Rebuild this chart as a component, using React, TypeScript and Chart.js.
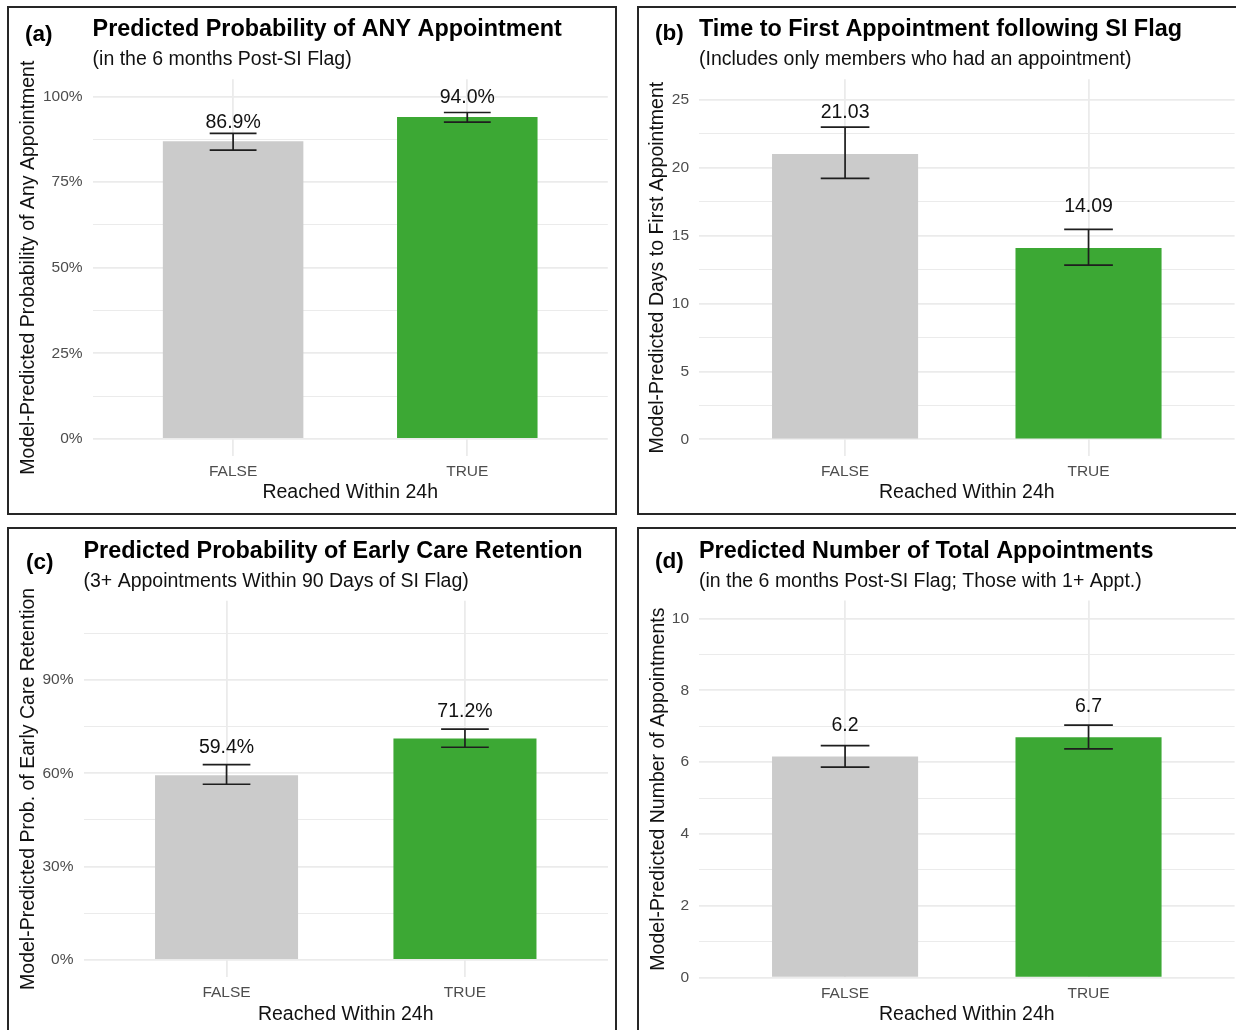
import React, { useEffect, useRef } from 'react';
import { Chart, registerables } from 'chart.js';

Chart.register(...registerables);

const FONT = '"Liberation Sans", Arial, Helvetica, sans-serif';

// ---------- shared data ----------
const CATEGORIES = ['FALSE', 'TRUE'];
const X_TITLE = 'Reached Within 24h';
const BAR_COLORS = ['#cbcbcb', '#3ca834'];

// ---------- panel (a) ----------
const A_TAG = '(a)';
const A_TITLE = 'Predicted Probability of ANY Appointment';
const A_SUBTITLE = '(in the 6 months Post-SI Flag)';
const A_Y_TITLE = 'Model-Predicted Probability of Any Appointment';
const A_VALUES = [86.9, 94.0];
const A_LOWER = [84.3, 92.5];
const A_UPPER = [89.2, 95.3];
const A_MAJOR_TICKS = [0, 25, 50, 75, 100];
const A_MINOR_TICKS = [12.5, 37.5, 62.5, 87.5];
const A_Y_RANGE = [-5, 105];

// ---------- panel (b) ----------
const B_TAG = '(b)';
const B_TITLE = 'Time to First Appointment following SI Flag';
const B_SUBTITLE = '(Includes only members who had an appointment)';
const B_Y_TITLE = 'Model-Predicted Days to First Appointment';
const B_VALUES = [21.03, 14.09];
const B_LOWER = [19.23, 12.84];
const B_UPPER = [23.0, 15.47];
const B_MAJOR_TICKS = [0, 5, 10, 15, 20, 25];
const B_MINOR_TICKS = [2.5, 7.5, 12.5, 17.5, 22.5];
const B_Y_RANGE = [-1.23, 26.53];

// ---------- panel (c) ----------
const C_TAG = '(c)';
const C_TITLE = 'Predicted Probability of Early Care Retention';
const C_SUBTITLE = '(3+ Appointments Within 90 Days of SI Flag)';
const C_Y_TITLE = 'Model-Predicted Prob. of Early Care Retention';
const C_VALUES = [59.4, 71.2];
const C_LOWER = [56.5, 68.4];
const C_UPPER = [62.8, 74.2];
const C_MAJOR_TICKS = [0, 30, 60, 90];
const C_MINOR_TICKS = [15, 45, 75, 105];
const C_Y_RANGE = [-5.5, 115.5];

// ---------- panel (d) ----------
const D_TAG = '(d)';
const D_TITLE = 'Predicted Number of Total Appointments';
const D_SUBTITLE = '(in the 6 months Post-SI Flag; Those with 1+ Appt.)';
const D_Y_TITLE = 'Model-Predicted Number of Appointments';
const D_VALUES = [6.16, 6.69];
const D_LOWER = [5.86, 6.37];
const D_UPPER = [6.46, 7.03];
const D_MAJOR_TICKS = [0, 2, 4, 6, 8, 10];
const D_MINOR_TICKS = [1, 3, 5, 7, 9];
const D_Y_RANGE = [0, 10.5];

// ---------- styling / layout ----------
const BOX_W = 610;
const BOX_H = 509;
const BORDER = 2;
const TITLE_SIZE = 23.4;
const TAG_SIZE = 22.5;
const TEXT_SIZE = 19.5;
const TICK_SIZE = 15.5;
const GRID_COLOR = '#ebebeb';
const LABEL_DY = 1.5;

const pct = (v: number) => `${v}%`;
const plain = (v: number) => `${v}`;

const PANELS = [
  {
    key: 'a', tag: A_TAG, title: A_TITLE, subtitle: A_SUBTITLE, yTitle: A_Y_TITLE,
    values: A_VALUES, lower: A_LOWER, upper: A_UPPER,
    major: A_MAJOR_TICKS, minor: A_MINOR_TICKS, range: A_Y_RANGE,
    tickFmt: pct, labelFmt: (v: number) => v.toFixed(1) + '%', labelLift: 6,
    layout: { boxLeft: 7, boxTop: 6, plotLeft: 92.6, plotRight: 607.8, plotTop: 79.3, plotBottom: 456,
      yTitleX: 29, xTitleY: 493, tagX: 25, tagY: 41, titleY: 36, subY: 65 },
  },
  {
    key: 'b', tag: B_TAG, title: B_TITLE, subtitle: B_SUBTITLE, yTitle: B_Y_TITLE,
    values: B_VALUES, lower: B_LOWER, upper: B_UPPER,
    major: B_MAJOR_TICKS, minor: B_MINOR_TICKS, range: B_Y_RANGE,
    tickFmt: plain, labelFmt: (v: number) => v.toFixed(2), labelLift: 3.15,
    layout: { boxLeft: 637, boxTop: 6, plotLeft: 699, plotRight: 1234.6, plotTop: 79.3, plotBottom: 456,
      yTitleX: 657.5, xTitleY: 493, tagX: 655, tagY: 40, titleY: 36, subY: 65 },
  },
  {
    key: 'c', tag: C_TAG, title: C_TITLE, subtitle: C_SUBTITLE, yTitle: C_Y_TITLE,
    values: C_VALUES, lower: C_LOWER, upper: C_UPPER,
    major: C_MAJOR_TICKS, minor: C_MINOR_TICKS, range: C_Y_RANGE,
    tickFmt: pct, labelFmt: (v: number) => v.toFixed(1) + '%', labelLift: 9.2,
    layout: { boxLeft: 7, boxTop: 527, plotLeft: 83.5, plotRight: 608, plotTop: 600.8, plotBottom: 977,
      yTitleX: 29, xTitleY: 1015, tagX: 26, tagY: 569, titleY: 558, subY: 587 },
  },
  {
    key: 'd', tag: D_TAG, title: D_TITLE, subtitle: D_SUBTITLE, yTitle: D_Y_TITLE,
    values: D_VALUES, lower: D_LOWER, upper: D_UPPER,
    major: D_MAJOR_TICKS, minor: D_MINOR_TICKS, range: D_Y_RANGE,
    tickFmt: plain, labelFmt: (v: number) => v.toFixed(1), labelLift: 0.9,
    layout: { boxLeft: 637, boxTop: 527, plotLeft: 699, plotRight: 1234.6, plotTop: 600.5, plotBottom: 977.7,
      yTitleX: 658.5, xTitleY: 1015, tagX: 655, tagY: 568, titleY: 558, subY: 587 },
  },
];

function Panel({ spec }: { spec: any }) {
  const ref = useRef<HTMLCanvasElement>(null);

  useEffect(() => {
    const L = spec.layout;
    const cl = L.boxLeft + BORDER;
    const ct = L.boxTop + BORDER;
    const cw = BOX_W - 2 * BORDER;
    const ch = BOX_H - 2 * BORDER;
    const half = (TEXT_SIZE * 1.2) / 2;
    const yScaleLeft = L.yTitleX - half;
    const padLeft = yScaleLeft - cl;
    const yWidth = L.plotLeft - yScaleLeft;
    const padRight = cl + cw - L.plotRight;
    const padTop = L.plotTop - ct;
    const xHeight = L.xTitleY + half - L.plotBottom;
    const padBottom = ct + ch - (L.plotBottom + xHeight);

    const majorSet = new Set<number>(spec.major);
    const allTicks = [...spec.major, ...spec.minor].sort((a: number, b: number) => a - b);

    const annot = {
      id: 'annot' + spec.key,
      afterDatasetsDraw(chart: any) {
        const { ctx } = chart;
        const x = chart.scales.x;
        const y = chart.scales.y;
        ctx.save();
        ctx.strokeStyle = '#1e1e1e';
        ctx.lineWidth = 1.7;
        spec.values.forEach((v: number, i: number) => {
          const cx = x.getPixelForValue(i + 1);
          const hw = x.getPixelForValue(i + 1.1) - cx;
          const yl = y.getPixelForValue(spec.lower[i]);
          const yu = y.getPixelForValue(spec.upper[i]);
          ctx.beginPath();
          ctx.moveTo(cx, yl);
          ctx.lineTo(cx, yu);
          ctx.moveTo(cx - hw, yu);
          ctx.lineTo(cx + hw, yu);
          ctx.moveTo(cx - hw, yl);
          ctx.lineTo(cx + hw, yl);
          ctx.stroke();
          ctx.fillStyle = '#111';
          ctx.font = `${TEXT_SIZE}px ${FONT}`;
          ctx.textAlign = 'center';
          ctx.textBaseline = 'middle';
          ctx.fillText(spec.labelFmt(v), cx, y.getPixelForValue(v + spec.labelLift) + LABEL_DY);
        });
        ctx.restore();
      },
      afterDraw(chart: any) {
        const { ctx, chartArea } = chart;
        ctx.save();
        ctx.fillStyle = '#000';
        ctx.textAlign = 'left';
        ctx.textBaseline = 'alphabetic';
        ctx.font = `bold ${TITLE_SIZE}px ${FONT}`;
        ctx.fillText(spec.title, chartArea.left, L.titleY - ct);
        ctx.font = `bold ${TAG_SIZE}px ${FONT}`;
        ctx.fillText(spec.tag, L.tagX - cl, L.tagY - ct);
        ctx.font = `${TEXT_SIZE}px ${FONT}`;
        ctx.fillStyle = '#111';
        ctx.fillText(spec.subtitle, chartArea.left, L.subY - ct);
        ctx.restore();
      },
    };

    const chart = new Chart(ref.current as HTMLCanvasElement, {
      type: 'bar',
      data: {
        datasets: [
          {
            data: spec.values.map((v: number, i: number) => ({ x: i + 1, y: v })),
            backgroundColor: BAR_COLORS,
            borderWidth: 0,
            barPercentage: 0.6,
            categoryPercentage: 1,
          },
        ],
      },
      options: {
        responsive: false,
        animation: false,
        events: [],
        layout: {
          autoPadding: false,
          padding: { left: padLeft, right: padRight, top: padTop, bottom: padBottom },
        },
        plugins: {
          legend: { display: false },
          tooltip: { enabled: false },
          title: { display: false },
        },
        scales: {
          x: {
            type: 'linear',
            min: 0.4,
            max: 2.6,
            offset: false,
            afterBuildTicks: (s: any) => {
              s.ticks = CATEGORIES.map((_, i) => ({ value: i + 1 }));
            },
            afterFit: (s: any) => {
              s.height = xHeight;
            },
            ticks: {
              callback: (v: any) => CATEGORIES[Math.round(v) - 1] ?? '',
              font: { size: TICK_SIZE, family: FONT },
              color: '#4d4d4d',
              padding: 6.5,
              maxRotation: 0,
              autoSkip: false,
            },
            grid: { color: GRID_COLOR, lineWidth: 1.8, drawTicks: false, offset: false },
            border: { display: false },
            title: {
              display: true,
              text: X_TITLE,
              font: { size: TEXT_SIZE, family: FONT },
              color: '#111',
              padding: 0,
            },
          },
          y: {
            type: 'linear',
            min: spec.range[0],
            max: spec.range[1],
            afterBuildTicks: (s: any) => {
              s.ticks = allTicks.map((v: number) => ({ value: v }));
            },
            afterFit: (s: any) => {
              s.width = yWidth;
            },
            ticks: {
              callback: (v: any) => (majorSet.has(v) ? spec.tickFmt(v) : ''),
              font: { size: TICK_SIZE, family: FONT },
              color: '#4d4d4d',
              padding: 10,
              autoSkip: false,
            },
            grid: {
              color: GRID_COLOR,
              lineWidth: (c: any) => (c.tick && majorSet.has(c.tick.value) ? 1.8 : 1.1),
              drawTicks: false,
            },
            border: { display: false },
            title: {
              display: true,
              text: spec.yTitle,
              font: { size: TEXT_SIZE, family: FONT },
              color: '#111',
              padding: 0,
            },
          },
        },
      } as any,
      plugins: [annot],
    });

    return () => chart.destroy();
  }, [spec]);

  const L = spec.layout;
  return (
    <div
      style={{
        position: 'absolute',
        left: L.boxLeft,
        top: L.boxTop,
        width: BOX_W,
        height: BOX_H,
        border: `${BORDER}px solid #262626`,
        boxSizing: 'border-box',
        background: '#fff',
      }}
    >
      <canvas
        ref={ref}
        width={BOX_W - 2 * BORDER}
        height={BOX_H - 2 * BORDER}
        style={{ display: 'block', width: BOX_W - 2 * BORDER, height: BOX_H - 2 * BORDER }}
      />
    </div>
  );
}

export default function App() {
  return (
    <div
      style={{
        position: 'absolute',
        left: 0,
        top: 0,
        width: 1236,
        height: 1030,
        overflow: 'hidden',
        background: '#fff',
      }}
    >
      {PANELS.map((p) => (
        <Panel key={p.key} spec={p} />
      ))}
    </div>
  );
}
